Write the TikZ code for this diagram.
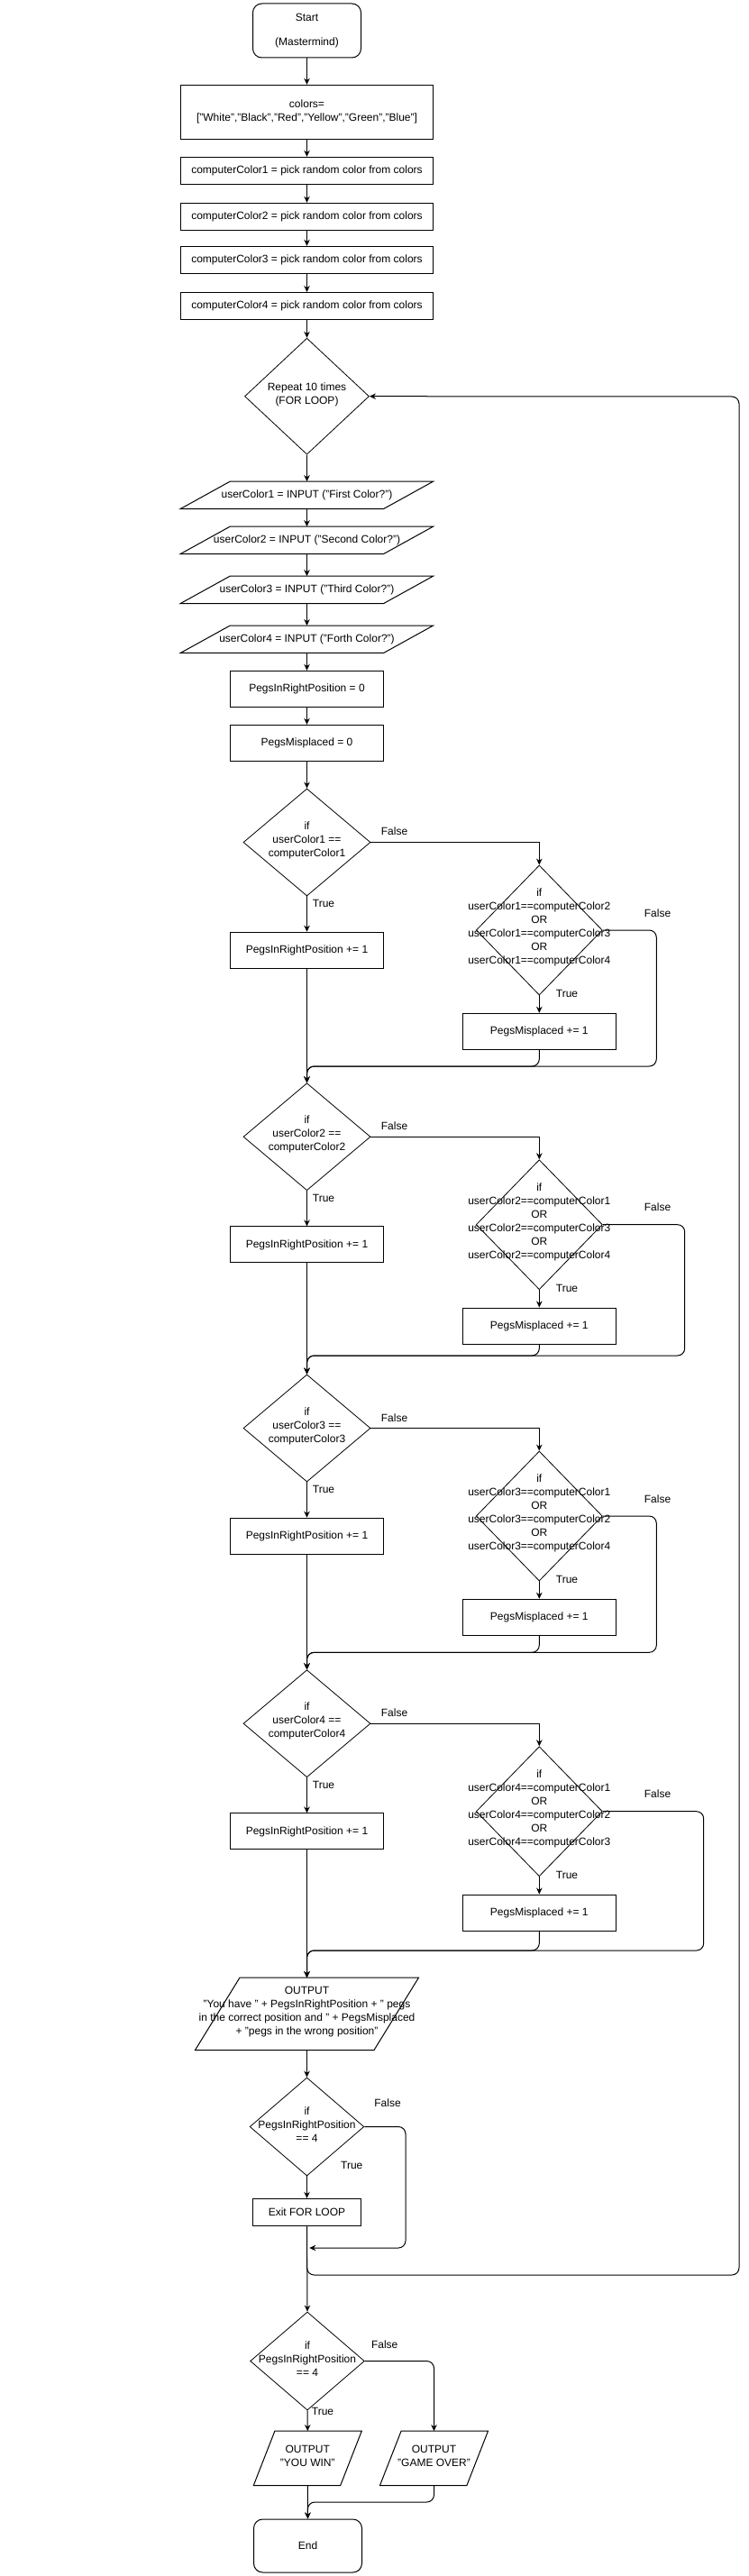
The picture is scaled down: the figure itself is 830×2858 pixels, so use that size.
\documentclass[tikz,border=0pt]{standalone}
\usepackage{fontspec}
\setmainfont{Liberation Sans}
\usetikzlibrary{shapes.geometric,arrows.meta}
\newcommand\drawpara[2]{\draw[line width=1pt] ([xshift=-#2/2]#1.south west) -- ([xshift=-#2/2]#1.south east) -- ([xshift=#2/2]#1.north east) -- ([xshift=#2/2]#1.north west) -- cycle;}
\begin{document}
\begin{tikzpicture}[x=1pt,y=-1pt,
  every node/.style={font=\fontsize{12}{15}\selectfont, align=center},
  box/.style={draw, rectangle, line width=1pt, inner sep=0pt},
  term/.style={box, rounded corners=10pt},
  dia/.style={draw, diamond, line width=0.8pt, inner sep=0pt},
  para/.style={rectangle, inner sep=0pt},
  txt/.style={inner sep=0pt},
  arr/.style={line width=1pt, -{Stealth[length=7pt,width=6.5pt]}},
  rarr/.style={arr, rounded corners=8pt},
  rln/.style={line width=1pt, rounded corners=8pt}
]
\useasboundingbox (0,0) rectangle (830,2858);

% --- top part
\node[term, minimum width=120, minimum height=60] (start) at (340.5,34) {Start\\[12.4pt](Mastermind)};
\node[box, minimum width=280, minimum height=60] (colors) at (340.5,124.3) {colors=\\{}["White","Black","Red","Yellow","Green","Blue"]};
\node[box, minimum width=279.3, minimum height=30] (cc1) at (340.5,189.3) {computerColor1 = pick random color from colors};
\node[box, minimum width=279.3, minimum height=30] (cc2) at (340.5,240.3) {computerColor2 = pick random color from colors};
\node[box, minimum width=279.3, minimum height=30] (cc3) at (340.5,288.3) {computerColor3 = pick random color from colors};
\node[box, minimum width=279.3, minimum height=30] (cc4) at (340.5,339.5) {computerColor4 = pick random color from colors};
\node[dia, minimum width=138, minimum height=129] (rep) at (340.5,439.7) {};
\node[txt] (rept) at (340.5,437.5) {Repeat 10 times\\(FOR LOOP)};

\node[para, minimum width=225, minimum height=30] (uc1) at (340.5,549.3) {};
\drawpara{uc1}{55}
\node[txt] (uc1t) at (uc1.center) {userColor1 = INPUT ("First Color?")};
\node[para, minimum width=225, minimum height=30] (uc2) at (340.5,599.3) {};
\drawpara{uc2}{55}
\node[txt] (uc2t) at (uc2.center) {userColor2 = INPUT ("Second Color?")};
\node[para, minimum width=225, minimum height=30] (uc3) at (340.5,654.3) {};
\drawpara{uc3}{55}
\node[txt] (uc3t) at (uc3.center) {userColor3 = INPUT ("Third Color?")};
\node[para, minimum width=225, minimum height=30] (uc4) at (340.5,709.2) {};
\drawpara{uc4}{55}
\node[txt] (uc4t) at (uc4.center) {userColor4 = INPUT ("Forth Color?")};

\node[box, minimum width=170, minimum height=40] (p0) at (340.5,764.3) {PegsInRightPosition = 0};
\node[box, minimum width=170, minimum height=40] (m0) at (340.5,824.3) {PegsMisplaced = 0};

\draw[arr] (start) -- (colors);
\draw[arr] (colors) -- (cc1);
\draw[arr] (cc1) -- (cc2);
\draw[arr] (cc2) -- (cc3);
\draw[arr] (cc3) -- (cc4);
\draw[arr] (cc4) -- (rep);
\draw[arr] (rep) -- (uc1);
\draw[arr] (uc1) -- (uc2);
\draw[arr] (uc2) -- (uc3);
\draw[arr] (uc3) -- (uc4);
\draw[arr] (uc4) -- (p0);
\draw[arr] (p0) -- (m0);

% --- four checking blocks
\foreach \i/\T/\pa/\pb/\pc in {1/875/2/3/4, 2/1201.7/1/3/4, 3/1525/1/2/4, 4/1852.7/1/2/3} {
  \node[dia, minimum width=141, minimum height=119] (d\i) at (340.5,\T+59.5) {};
  \node[txt] (dt\i) at (340.5,\T+57) {if\\userColor\i{} ==\\computerColor\i};
  \node[txt] (f\i) at (437.5,\T+47.7) {False};
  \node[txt, anchor=west] (t\i) at (346.7,\T+127.7) {True};
  \node[box, minimum width=170, minimum height=40] (r\i) at (340.5,\T+179.2) {PegsInRightPosition += 1};
  \node[dia, minimum width=140, minimum height=144] (e\i) at (598.3,\T+157) {};
  \node[txt] (et\i) at (598.3,\T+154.2) {if\\userColor\i==computerColor\pa\\OR\\userColor\i==computerColor\pb\\OR\\userColor\i==computerColor\pc};
  \node[txt] (g\i) at (729.5,\T+137.7) {False};
  \node[txt, anchor=west] (u\i) at (616.7,\T+227.7) {True};
  \node[box, minimum width=170, minimum height=40] (m\i) at (598.3,\T+269.3) {PegsMisplaced += 1};
}
\draw[arr] (m0) -- (d1);

% --- output, exit check
\node[para, minimum width=198.1, minimum height=80] (out) at (340.5,2234.3) {};
\drawpara{out}{49.5}
\node[txt] (outt) at (340.5,2232) {OUTPUT\\"You have " + PegsInRightPosition + " pegs\\in the correct position and " + PegsMisplaced\\+ "pegs in the wrong position"};

\foreach \i/\n/\J/\X in {1/d2/1183/728.3, 2/d3/1504/759.7, 3/d4/1833.3/728.3, 4/out/2164/780.7} {
  \draw[arr] (d\i.east) -| (e\i.north);
  \draw[arr] (d\i.south) -- (r\i.north);
  \draw[arr] (e\i.south) -- (m\i.north);
  \draw[arr] (r\i.south) -- (\n.north);
  \draw[rarr] (m\i.south) -- (598.3,\J) -- (340.5,\J) -- (\n.north);
  \draw[rarr] (e\i.east) -| (\X,\J) -- (340.5,\J) -- (\n.north);
}

\node[dia, minimum width=126.7, minimum height=109] (d5) at (340.5,2359.5) {};
\node[txt] (dt5) at (340.5,2357) {if\\PegsInRightPosition\\== 4};
\node[txt] (f5) at (430,2332.7) {False};
\node[txt] (t5) at (390.3,2402.7) {True};
\node[box, minimum width=120.4, minimum height=30] (exit) at (340.5,2454.3) {Exit FOR LOOP};
\coordinate (back) at (343.3,2494);
\coordinate (lp) at (340.5,2505);

\node[dia, minimum width=126.7, minimum height=109] (d6) at (341,2619.5) {};
\node[txt] (dt6) at (341,2617) {if\\PegsInRightPosition\\== 4};
\node[txt] (f6) at (426.7,2600.7) {False};
\node[txt, anchor=west] (t6) at (345.7,2675) {True};
\node[para, minimum width=96, minimum height=60] (win) at (341.3,2727.3) {};
\drawpara{win}{23.6}
\node[txt] (wint) at (341.3,2725) {OUTPUT\\"YOU WIN"};
\node[para, minimum width=96, minimum height=60] (over) at (481.5,2727.3) {};
\drawpara{over}{23.6}
\node[txt] (overt) at (481.5,2725) {OUTPUT\\"GAME OVER"};
\node[term, minimum width=120, minimum height=59] (end) at (341.5,2824.5) {End};

\draw[arr] (out) -- (d5);
\draw[arr] (d5) -- (exit);
\draw[arr] (exit.south) -- (d6.north);
\draw[rarr] (d5.east) -| (450,2494) -- (back);
\draw[rarr] (lp) -- (340.5,2524) -- (820,2524) -- (820,440) -- (rep.east);
\draw[arr] (d6.south) -- (win.north);
\draw[rarr] (d6.east) -| (over.north);
\draw[arr] (win.south) -- (end.north);
\draw[rarr] (over.south) -- (481.5,2776) -- (341.3,2776) -- (end.north);
\end{tikzpicture}
\end{document}
